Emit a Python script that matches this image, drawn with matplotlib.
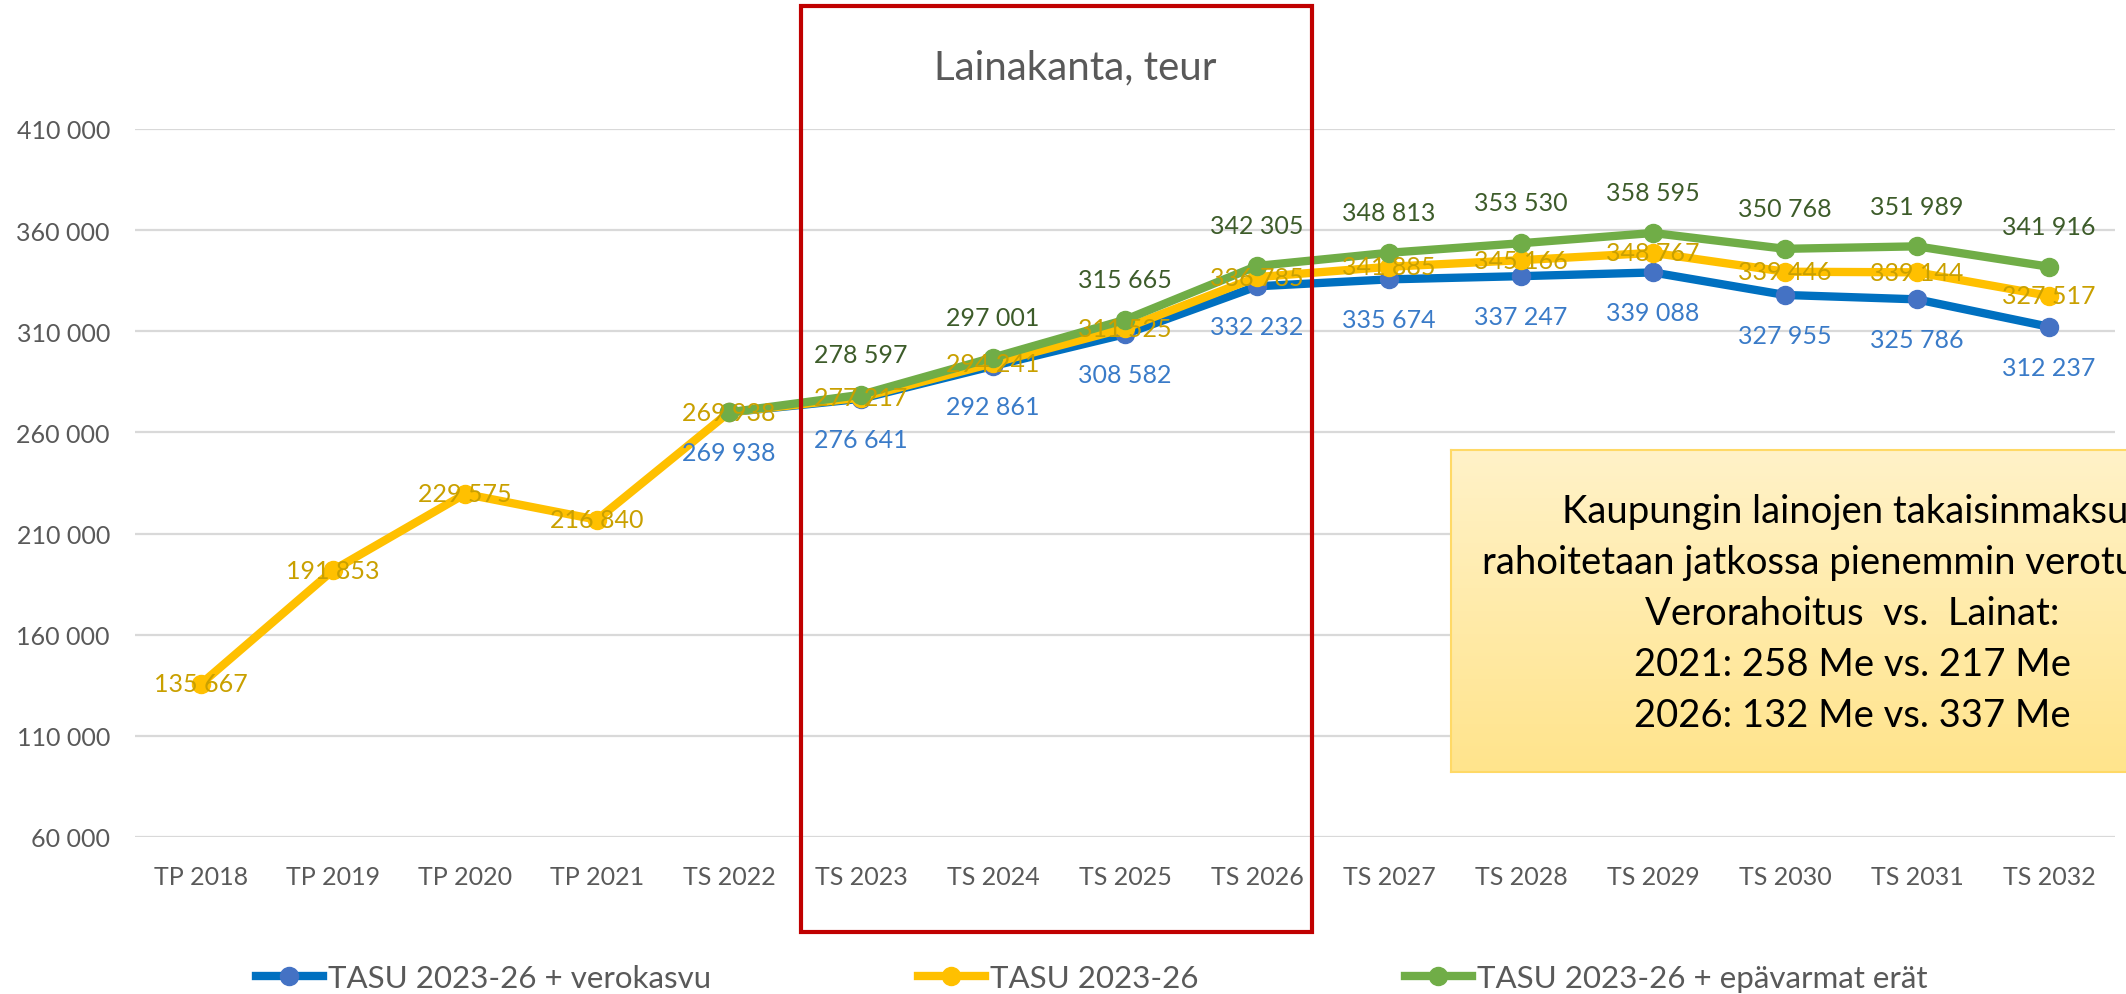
import matplotlib
matplotlib.use("Agg")
import matplotlib.pyplot as plt
from matplotlib.patches import Rectangle
import numpy as np

# data
categories = ["TP 2018", "TP 2019", "TP 2020", "TP 2021", "TS 2022", "TS 2023", "TS 2024",
              "TS 2025", "TS 2026", "TS 2027", "TS 2028", "TS 2029", "TS 2030", "TS 2031", "TS 2032"]
tasu = [135667, 191853, 229575, 216840, 269938, 277217, 294241, 311525, 336785,
        341885, 345166, 348767, 339446, 339144, 327517]
verokasvu = [269938, 276641, 292861, 308582, 332232, 335674, 337247, 339088, 327955, 325786, 312237]
epavarmat = [269938, 278597, 297001, 315665, 342305, 348813, 353530, 358595, 350768, 351989, 341916]
yticks = [60000, 110000, 160000, 210000, 260000, 310000, 360000, 410000]
box_lines = ["Kaupungin lainojen takaisinmaksut",
             "rahoitetaan jatkossa pienemmin verotuloilla.",
             "Verorahoitus  vs.  Lainat:",
             "2021: 258 Me vs. 217 Me",
             "2026: 132 Me vs. 337 Me"]

plt.rcParams["font.family"] = ["Lato", "DejaVu Sans"]

W, H = 2126, 995
fig = plt.figure(figsize=(W / 100, H / 100), dpi=100)
ax = fig.add_axes([135 / W, (H - 838) / H, (15 * 132) / W, (838 - 130) / H])

x = np.arange(len(categories))
xs = x[4:]
gray = "#595959"

ax.plot(xs, verokasvu, color="#0070C0", lw=6, marker="o", ms=13, mfc="#4472C4", mec="#4472C4",
        label="TASU 2023-26 + verokasvu", zorder=3)
ax.plot(x, tasu, color="#FFC000", lw=6, marker="o", ms=13, label="TASU 2023-26", zorder=4)
ax.plot(xs, epavarmat, color="#70AD47", lw=6, marker="o", ms=13, label="TASU 2023-26 + epävarmat erät",
        zorder=5)

def fmt(v):
    return f"{v:,}".replace(",", " ")

for xi, v in zip(xs, verokasvu):
    ax.annotate(fmt(v), (xi, v), xytext=(0, -29), textcoords="offset points", ha="center", va="center",
                color="#3A7BC8", fontsize=18, zorder=6)
for xi, v in zip(x, tasu):
    ax.annotate(fmt(v), (xi, v), xytext=(0, 0), textcoords="offset points", ha="center", va="center",
                color="#C9A000", fontsize=18, zorder=6)
for xi, v in zip(xs[1:], epavarmat[1:]):
    ax.annotate(fmt(v), (xi, v), xytext=(0, 29), textcoords="offset points", ha="center", va="center",
                color="#3D5C2A", fontsize=18, zorder=6)

ax.set_xlim(-0.5, len(categories) - 0.5)
ax.set_ylim(60000, 410000)
ax.set_yticks(yticks)
ax.set_yticklabels([fmt(t) for t in yticks], fontsize=18, color=gray)
ax.set_xticks(x)
ax.set_xticklabels(categories, fontsize=18, color=gray)
ax.tick_params(axis="x", length=0, pad=20)
ax.tick_params(axis="y", length=0, pad=18)
ax.grid(axis="y", color="#D9D9D9", lw=1.6)
ax.set_axisbelow(True)
for s in ax.spines.values():
    s.set_visible(False)

fig.text(1075 / W, (H - 68) / H, "Lainakanta, teur", ha="center", va="center", fontsize=29, color=gray)

leg = fig.legend(loc="center left", bbox_to_anchor=(240 / W, 16 / H), ncol=3, frameon=False,
                 fontsize=22.5, handlelength=2.15, handletextpad=0.17, columnspacing=6.6,
                 borderpad=0, labelcolor=gray)

# red frame
fig.patches.append(Rectangle((801 / W, (H - 933) / H), 511 / W, 926 / H, transform=fig.transFigure,
                             fill=False, ec="#C00000", lw=3, zorder=10))

# yellow note box with gradient
bx = fig.add_axes([1451 / W, (H - 773) / H, 800 / W, 322 / H])
grad = np.linspace(0, 1, 100).reshape(-1, 1)
c1 = np.array([255, 242, 200]) / 255
c2 = np.array([255, 228, 140]) / 255
img = c1 + (c2 - c1) * grad[:, :, None]
bx.imshow(img, aspect="auto", extent=[0, 1, 0, 1])
bx.set_xticks([])
bx.set_yticks([])
for s in bx.spines.values():
    s.set_color("#FFD966")
    s.set_linewidth(1.5)

for i, line in enumerate(box_lines):
    fig.text(1852 / W, (H - (512 + 51 * i)) / H, line, ha="center", va="center", fontsize=27.5,
             color="black")

plt.savefig("out.png", dpi=100)
plt.close()
